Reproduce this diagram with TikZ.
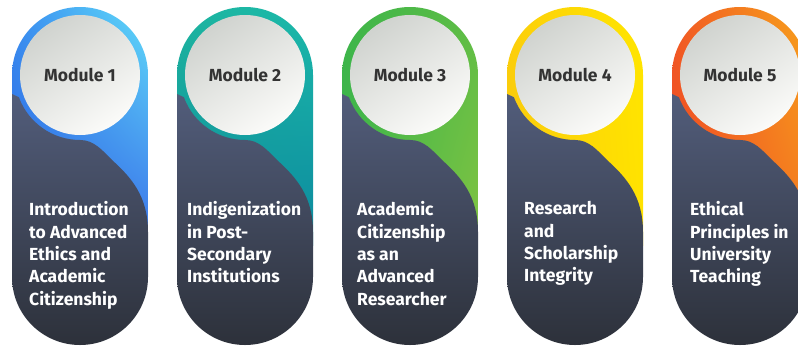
\documentclass[tikz,border=0pt]{standalone}
\usepackage{fontspec}
\setmainfont{Fira Sans}
\usetikzlibrary{shadings}
\definecolor{darkA}{HTML}{525D7B}
\definecolor{darkB}{HTML}{2C3039}
\definecolor{discA}{HTML}{D0D3CF}
\definecolor{discB}{HTML}{FBFBF9}
\definecolor{modtext}{HTML}{333333}
\tikzset{
  disc/.style={circle, minimum size=120pt, inner sep=0pt, top color=discA, bottom color=discB, shading angle=35,
     font=\bfseries\fontsize{17.5}{20}\selectfont, text=modtext},
  bodytext/.style={anchor=north west, align=left, inner sep=0pt, text=white,
     font=\bfseries\fontsize{17.5}{22.3}\selectfont},
}
% #1 shift, #2 UL, #3 UR, #4 LL, #5 LR, #6 index, #7 text, #8 text x
\newcommand\modpill[8]{%
  \definecolor{pUL}{HTML}{#2}\definecolor{pUR}{HTML}{#3}%
  \definecolor{pLL}{HTML}{#4}\definecolor{pLR}{HTML}{#5}%
  \begin{scope}[xshift=#1pt]
    \begin{scope}
      \clip[rounded corners=68pt] (0,7) rectangle (136,345);
      \shade[upper left=pUL, upper right=pUR, lower left=pLL, lower right=pLR] (0,7) rectangle (136,245);
      \shade[top color=darkA, bottom color=darkB]
        (0,94) -- (6.9,97.2) arc[start angle=160, end angle=90, radius=65]
        .. controls (82,140) and (90,150) .. (100,160)
        .. controls (120,178) and (136,197) .. (136,232)
        -- (140,232) -- (140,350) -- (-5,350) -- (-5,94) -- cycle;
    \end{scope}
    \node[disc] (m#6) at (68,75) {Module #6};
    \node[bodytext] (t#6) at (#8,201.5) {#7};
  \end{scope}}
\begin{document}
\begin{tikzpicture}[x=1pt,y=-1pt]
\useasboundingbox (0,0) rectangle (798,346);
\clip (0,0) rectangle (798,346);
\fill[white] (0,0) rectangle (798,346);
\modpill{12}{3A8EF0}{60DCF9}{2B5FE0}{3A72EA}{1}{Introduction\\to Advanced\\Ethics and\\Academic\\Citizenship}{17}
\modpill{177}{1DB59F}{1CBAAA}{0E8B9A}{0C899E}{2}{Indigenization\\in Post-\\Secondary\\Institutions}{10}
\modpill{342}{3DB54A}{5EBD46}{3DB54A}{80C342}{3}{Academic\\Citizenship\\as an\\Advanced\\Researcher}{15}
\modpill{507}{FCCF0A}{FFE500}{F9C80E}{FFE200}{4}{Research\\and\\Scholarship\\Integrity}{17}
\modpill{672}{F15A24}{F7A11B}{EE4423}{F47A20}{5}{Ethical\\Principles in\\University\\Teaching}{18}
\end{tikzpicture}
\end{document}
